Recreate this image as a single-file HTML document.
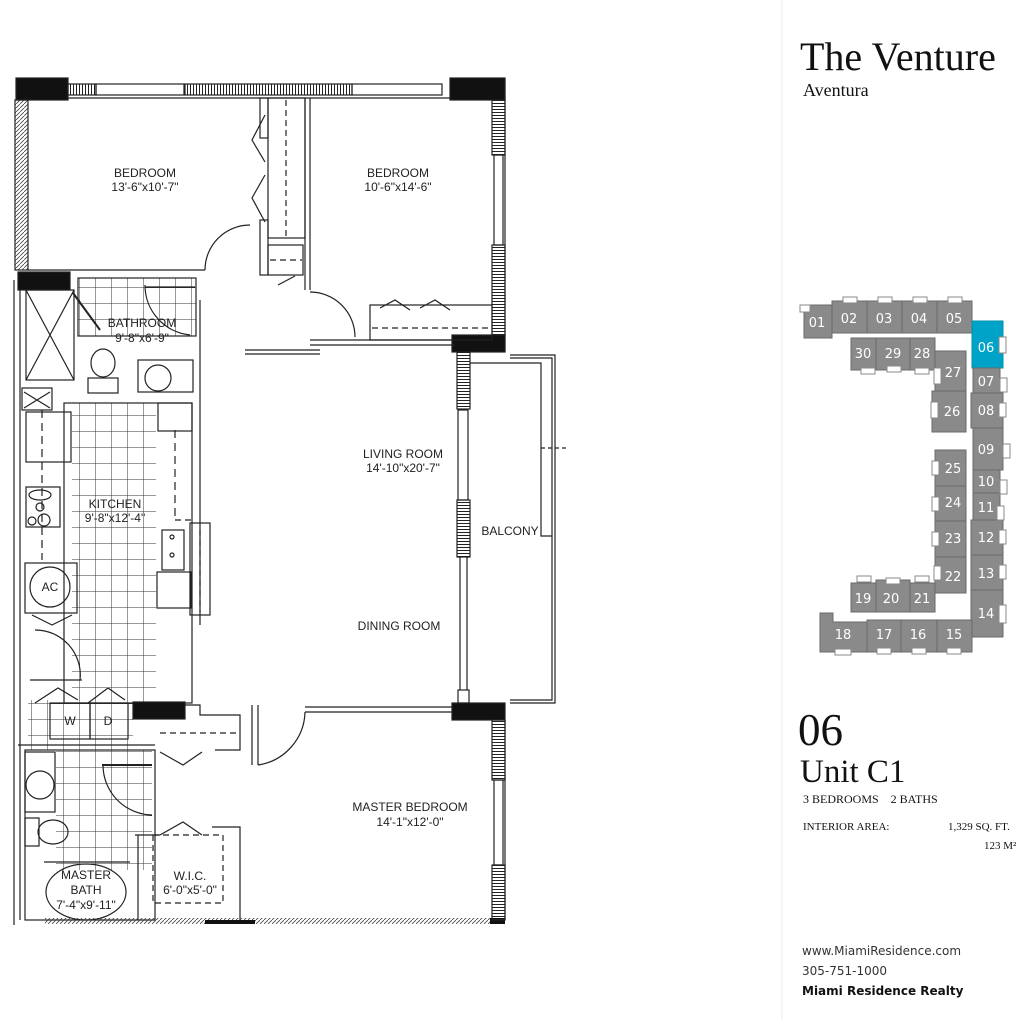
<!DOCTYPE html>
<html><head><meta charset="utf-8"><style>
html,body{margin:0;padding:0;background:#fff;}
body{width:1018px;height:1020px;position:relative;overflow:hidden;}
.t{font-family:"Liberation Sans",sans-serif;font-size:12px;fill:#222;text-anchor:middle;}
.s{font-family:"Liberation Serif",serif;position:absolute;color:#111;}
.k{font-family:"DejaVu Sans",sans-serif;font-size:13px;fill:#fff;text-anchor:middle;}
</style></head><body>
<svg width="1018" height="1020" style="position:absolute;left:0;top:0">
<defs>
<pattern id="tile" width="16" height="16" patternUnits="userSpaceOnUse"><path d="M16 0V16H0" fill="none" stroke="#333" stroke-width="1"/></pattern>
<pattern id="hat" width="4" height="4" patternUnits="userSpaceOnUse"><path d="M0 4L4 0" stroke="#444" stroke-width="0.8"/></pattern>
<pattern id="win" width="3" height="10" patternUnits="userSpaceOnUse"><path d="M1.5 0V10" stroke="#222" stroke-width="1"/></pattern>
<pattern id="winv" width="10" height="3" patternUnits="userSpaceOnUse"><path d="M0 1.5H10" stroke="#222" stroke-width="1"/></pattern>
</defs>
<line x1="782" y1="0" x2="782" y2="1020" stroke="#eee"/>
<g fill="none" stroke="#222" stroke-width="1.2">
<rect x="78" y="278" width="118" height="58" fill="url(#tile)" stroke="none"/>
<rect x="72" y="403" width="84" height="300" fill="url(#tile)" stroke="none"/>
<rect x="56" y="750" width="96" height="120" fill="url(#tile)" stroke="none"/>
<rect x="28" y="700" width="105" height="50" fill="url(#tile)" stroke="none"/>
<rect x="16" y="78" width="52" height="22" fill="#111"/>
<rect x="450" y="78" width="55" height="22" fill="#111"/>
<rect x="68" y="84" width="28" height="11" fill="url(#win)"/>
<rect x="96" y="84" width="88" height="11"/>
<rect x="185" y="84" width="167" height="11" fill="url(#win)"/>
<rect x="352" y="84" width="90" height="11"/>
<line x1="68" y1="98" x2="450" y2="98"/>
<rect x="492" y="100" width="13" height="55" fill="url(#winv)"/>
<rect x="494" y="155" width="9" height="90"/>
<rect x="492" y="245" width="13" height="90" fill="url(#winv)"/>
<line x1="505" y1="78" x2="505" y2="352"/>
<rect x="452" y="335" width="53" height="17" fill="#111"/>
<rect x="15" y="100" width="13" height="170" fill="url(#hat)"/>
<rect x="18" y="272" width="52" height="18" fill="#111"/>
<line x1="14" y1="280" x2="14" y2="925"/>
<line x1="20" y1="290" x2="20" y2="920"/>
<line x1="28" y1="270" x2="205" y2="270"/>
<rect x="260" y="98" width="8" height="40"/>
<rect x="260" y="220" width="8" height="55"/>
<rect x="268" y="98" width="37" height="140"/>
<line x1="286" y1="100" x2="286" y2="236" stroke-dasharray="6,4"/>
<polyline points="265,115 252,140 265,162"/>
<polyline points="265,175 252,198 265,222"/>
<line x1="305" y1="98" x2="305" y2="290"/>
<line x1="310" y1="98" x2="310" y2="290"/>
<rect x="268" y="245" width="35" height="30"/>
<line x1="270" y1="260" x2="302" y2="260" stroke-dasharray="6,4"/>
<line x1="278" y1="285" x2="295" y2="276"/>
<path d="M250 225 A45 45 0 0 0 205 270"/>
<path d="M310 292 A45 45 0 0 1 355 337"/>
<line x1="245" y1="350" x2="320" y2="350"/>
<line x1="245" y1="354" x2="320" y2="354"/>
<line x1="310" y1="340" x2="455" y2="340"/>
<line x1="310" y1="345" x2="455" y2="345"/>
<rect x="370" y="305" width="122" height="35"/>
<line x1="372" y1="328" x2="490" y2="328" stroke-dasharray="6,4"/>
<polyline points="380,308 395,300 410,310"/>
<polyline points="420,308 435,300 450,310"/>
<rect x="26" y="290" width="48" height="90"/>
<path d="M26 290L74 380M74 290L26 380"/>
<line x1="73" y1="293" x2="100" y2="330" stroke-width="2"/>
<rect x="78" y="278" width="118" height="58"/>
<path d="M145 285 A50 50 0 0 0 190 335"/>
<line x1="145" y1="287" x2="195" y2="287"/>
<rect x="138" y="360" width="55" height="32"/>
<ellipse cx="158" cy="378" rx="13" ry="13"/>
<ellipse cx="103" cy="363" rx="12" ry="14"/>
<rect x="88" y="378" width="30" height="15"/>
<line x1="200" y1="300" x2="200" y2="625"/>
<rect x="22" y="388" width="30" height="22"/>
<path d="M24 392L50 408M50 392L24 408"/>
<rect x="26" y="412" width="45" height="50"/>
<line x1="42" y1="410" x2="42" y2="560" stroke-dasharray="8,5"/>
<rect x="26" y="487" width="34" height="40"/>
<ellipse cx="40" cy="495" rx="11" ry="5"/>
<circle cx="40" cy="507" r="4"/><circle cx="32" cy="521" r="4"/><circle cx="44" cy="520" r="6"/>
<rect x="64" y="403" width="128" height="300"/>
<rect x="158" y="403" width="34" height="28"/>
<line x1="175" y1="430" x2="175" y2="520" stroke-dasharray="8,5"/>
<line x1="175" y1="520" x2="192" y2="520" stroke-dasharray="6,4"/>
<rect x="162" y="530" width="22" height="40"/>
<circle cx="172" cy="537" r="2"/><circle cx="172" cy="555" r="2"/>
<rect x="157" y="572" width="34" height="36"/>
<rect x="190" y="523" width="20" height="92"/>
<line x1="200" y1="530" x2="200" y2="612" stroke-dasharray="6,4"/>
<rect x="25" y="563" width="52" height="50"/>
<circle cx="50" cy="587" r="20"/>
<polyline points="32,615 52,625 72,615"/>
<path d="M35 630 A45 45 0 0 1 80 680"/>
<line x1="30" y1="680" x2="82" y2="680"/>
<polyline points="35,703 58,688 78,700"/>
<polyline points="88,703 108,688 125,700"/>
<rect x="50" y="703" width="40" height="36"/>
<rect x="90" y="703" width="38" height="36"/>
<rect x="133" y="702" width="52" height="17" fill="#111"/>
<line x1="18" y1="745" x2="155" y2="745"/>
<polyline points="185,705 200,705 200,715 240,715 240,750 215,750"/>
<line x1="160" y1="733" x2="240" y2="733" stroke-dasharray="6,4"/>
<polyline points="160,752 183,765 202,752"/>
<line x1="252" y1="705" x2="252" y2="765"/>
<line x1="258" y1="705" x2="258" y2="765"/>
<path d="M258 765 A55 55 0 0 0 305 712"/>
<line x1="305" y1="712" x2="455" y2="712"/>
<line x1="305" y1="707" x2="455" y2="707"/>
<rect x="25" y="750" width="130" height="170"/>
<rect x="25" y="752" width="30" height="60"/>
<circle cx="40" cy="785" r="14"/>
<rect x="25" y="818" width="14" height="28"/>
<ellipse cx="53" cy="832" rx="15" ry="12"/>
<line x1="102" y1="765" x2="152" y2="765" stroke-width="2"/>
<path d="M103 765 A50 50 0 0 0 152 815"/>
<line x1="44" y1="862" x2="130" y2="862"/>
<ellipse cx="86" cy="892" rx="40" ry="28"/>
<polyline points="160,835 183,822 202,835"/>
<polyline points="212,827 240,827 240,920"/>
<line x1="160" y1="835" x2="135" y2="835"/>
<line x1="138" y1="835" x2="138" y2="920"/>
<rect x="153" y="835" width="70" height="68" stroke-dasharray="6,4"/>
<rect x="45" y="918" width="450" height="6" fill="url(#hat)" stroke="none"/>
<rect x="205" y="920" width="50" height="4" fill="#111" stroke="none"/>
<rect x="490" y="918" width="15" height="6" fill="#111" stroke="none"/>
<rect x="457" y="352" width="13" height="57" fill="url(#winv)"/>
<rect x="458" y="410" width="10" height="90"/>
<rect x="457" y="500" width="13" height="57" fill="url(#winv)"/>
<line x1="460" y1="557" x2="460" y2="690"/>
<line x1="467" y1="557" x2="467" y2="690"/>
<rect x="458" y="690" width="11" height="13"/>
<rect x="452" y="703" width="53" height="17" fill="#111"/>
<polyline points="510,355 555,355 555,703 510,703"/>
<polyline points="510,358 552,358 552,700 510,700"/>
<polyline points="470,363 541,363 541,536 552,536"/>
<line x1="541" y1="448" x2="567" y2="448" stroke-dasharray="4,3"/>
<rect x="492" y="720" width="13" height="60" fill="url(#winv)"/>
<rect x="494" y="780" width="9" height="85"/>
<rect x="492" y="865" width="13" height="55" fill="url(#winv)"/>
<line x1="505" y1="720" x2="505" y2="920"/>
</g>
<g class="t">
<text x="145" y="177">BEDROOM</text><text x="145" y="191">13'-6"x10'-7"</text>
<text x="398" y="177">BEDROOM</text><text x="398" y="191">10'-6"x14'-6"</text>
<text x="142" y="327">BATHROOM</text><text x="142" y="342">9'-8"x6'-9"</text>
<text x="115" y="508">KITCHEN</text><text x="115" y="522">9'-8"x12'-4"</text>
<text x="50" y="591">AC</text>
<text x="70" y="725">W</text><text x="108" y="725">D</text>
<text x="403" y="458">LIVING ROOM</text><text x="403" y="472">14'-10"x20'-7"</text>
<text x="399" y="630">DINING ROOM</text>
<text x="510" y="535">BALCONY</text>
<text x="410" y="811">MASTER BEDROOM</text><text x="410" y="826">14'-1"x12'-0"</text>
<text x="190" y="880">W.I.C.</text><text x="190" y="894">6'-0"x5'-0"</text>
<text x="86" y="879">MASTER</text><text x="86" y="894">BATH</text><text x="86" y="909">7'-4"x9'-11"</text>
</g>
<g fill="#8a8a8a" stroke="#6a6a6a" stroke-width="1">
<rect x="804" y="305" width="28" height="33"/>
<rect x="832" y="301" width="35" height="32"/><rect x="867" y="301" width="35" height="32"/>
<rect x="902" y="301" width="35" height="32"/><rect x="937" y="301" width="35" height="32"/>
<rect x="972" y="321" width="31" height="47" fill="#00a3c8" stroke="#0090b0"/>
<rect x="851" y="338" width="25" height="32"/><rect x="876" y="338" width="34" height="32"/><rect x="910" y="338" width="25" height="32"/>
<rect x="935" y="351" width="31" height="40"/><rect x="932" y="391" width="34" height="41"/>
<rect x="973" y="368" width="27" height="25"/><rect x="971" y="393" width="32" height="35"/>
<rect x="973" y="428" width="30" height="42"/><rect x="973" y="470" width="27" height="23"/>
<rect x="973" y="493" width="27" height="27"/><rect x="971" y="520" width="32" height="35"/>
<rect x="971" y="555" width="32" height="35"/><rect x="971" y="590" width="32" height="47"/>
<rect x="935" y="450" width="31" height="36"/><rect x="935" y="486" width="31" height="35"/>
<rect x="935" y="521" width="31" height="36"/><rect x="935" y="557" width="31" height="36"/>
<rect x="851" y="583" width="25" height="29"/><rect x="876" y="580" width="34" height="32"/><rect x="910" y="583" width="25" height="29"/>
<path d="M820 613H833V622H867V652H820Z"/>
<rect x="867" y="620" width="34" height="32"/><rect x="901" y="620" width="36" height="32"/><rect x="937" y="620" width="35" height="32"/>
</g>
<g fill="#fff" stroke="#888" stroke-width="1">
<rect x="800" y="305" width="10" height="7"/><rect x="843" y="297" width="14" height="6"/><rect x="878" y="297" width="14" height="6"/>
<rect x="913" y="297" width="14" height="6"/><rect x="948" y="297" width="14" height="6"/>
<rect x="999" y="337" width="7" height="16"/>
<rect x="861" y="368" width="14" height="6"/><rect x="887" y="366" width="14" height="6"/><rect x="915" y="368" width="14" height="6"/>
<rect x="934" y="368" width="7" height="16"/><rect x="931" y="402" width="7" height="16"/>
<rect x="1000" y="378" width="7" height="14"/><rect x="999" y="403" width="7" height="14"/>
<rect x="1003" y="444" width="7" height="14"/><rect x="1000" y="480" width="7" height="14"/>
<rect x="997" y="506" width="7" height="14"/><rect x="999" y="530" width="7" height="14"/>
<rect x="999" y="565" width="7" height="14"/><rect x="999" y="605" width="7" height="18"/>
<rect x="932" y="461" width="7" height="14"/><rect x="932" y="497" width="7" height="14"/>
<rect x="932" y="532" width="7" height="14"/><rect x="934" y="566" width="7" height="14"/>
<rect x="857" y="576" width="14" height="6"/><rect x="886" y="578" width="14" height="6"/><rect x="915" y="576" width="14" height="6"/>
<rect x="835" y="649" width="16" height="6"/><rect x="877" y="648" width="14" height="6"/><rect x="912" y="648" width="14" height="6"/><rect x="947" y="648" width="14" height="6"/>
</g>
<g class="k">
<text x="817" y="327">01</text><text x="849" y="323">02</text><text x="884" y="323">03</text><text x="919" y="323">04</text><text x="954" y="323">05</text>
<text x="986" y="352">06</text>
<text x="863" y="358">30</text><text x="893" y="358">29</text><text x="922" y="358">28</text>
<text x="953" y="377">27</text><text x="952" y="416">26</text>
<text x="986" y="386">07</text><text x="986" y="415">08</text><text x="986" y="454">09</text><text x="986" y="486">10</text>
<text x="986" y="512">11</text><text x="986" y="542">12</text><text x="986" y="578">13</text><text x="986" y="618">14</text>
<text x="953" y="473">25</text><text x="953" y="507">24</text><text x="953" y="543">23</text><text x="953" y="581">22</text>
<text x="863" y="603">19</text><text x="891" y="603">20</text><text x="922" y="603">21</text>
<text x="843" y="639">18</text><text x="884" y="639">17</text><text x="918" y="639">16</text><text x="954" y="639">15</text>
</g>
</svg>
<div class="s" style="left:800px;top:33px;font-size:40px;line-height:48px">The Venture</div>
<div class="s" style="left:803px;top:79px;font-size:18px;line-height:22px">Aventura</div>
<div class="s" style="left:798px;top:703px;font-size:45px;line-height:54px">06</div>
<div class="s" style="left:800px;top:752px;font-size:33px;line-height:40px">Unit C1</div>
<div class="s" style="left:803px;top:792px;font-size:12px">3 BEDROOMS &nbsp;&nbsp; 2 BATHS</div>
<div class="s" style="left:803px;top:821px;font-size:11px">INTERIOR AREA:</div>
<div class="s" style="left:948px;top:821px;font-size:11px">1,329 SQ. FT.</div>
<div class="s" style="left:984px;top:840px;font-size:11px">123 M²</div>
<div style="position:absolute;left:802px;top:941px;font-family:'DejaVu Sans',sans-serif;font-size:12px;color:#333;line-height:20px">www.MiamiResidence.com<br>305-751-1000<br><b style="color:#111">Miami Residence Realty</b></div>
</body></html>
